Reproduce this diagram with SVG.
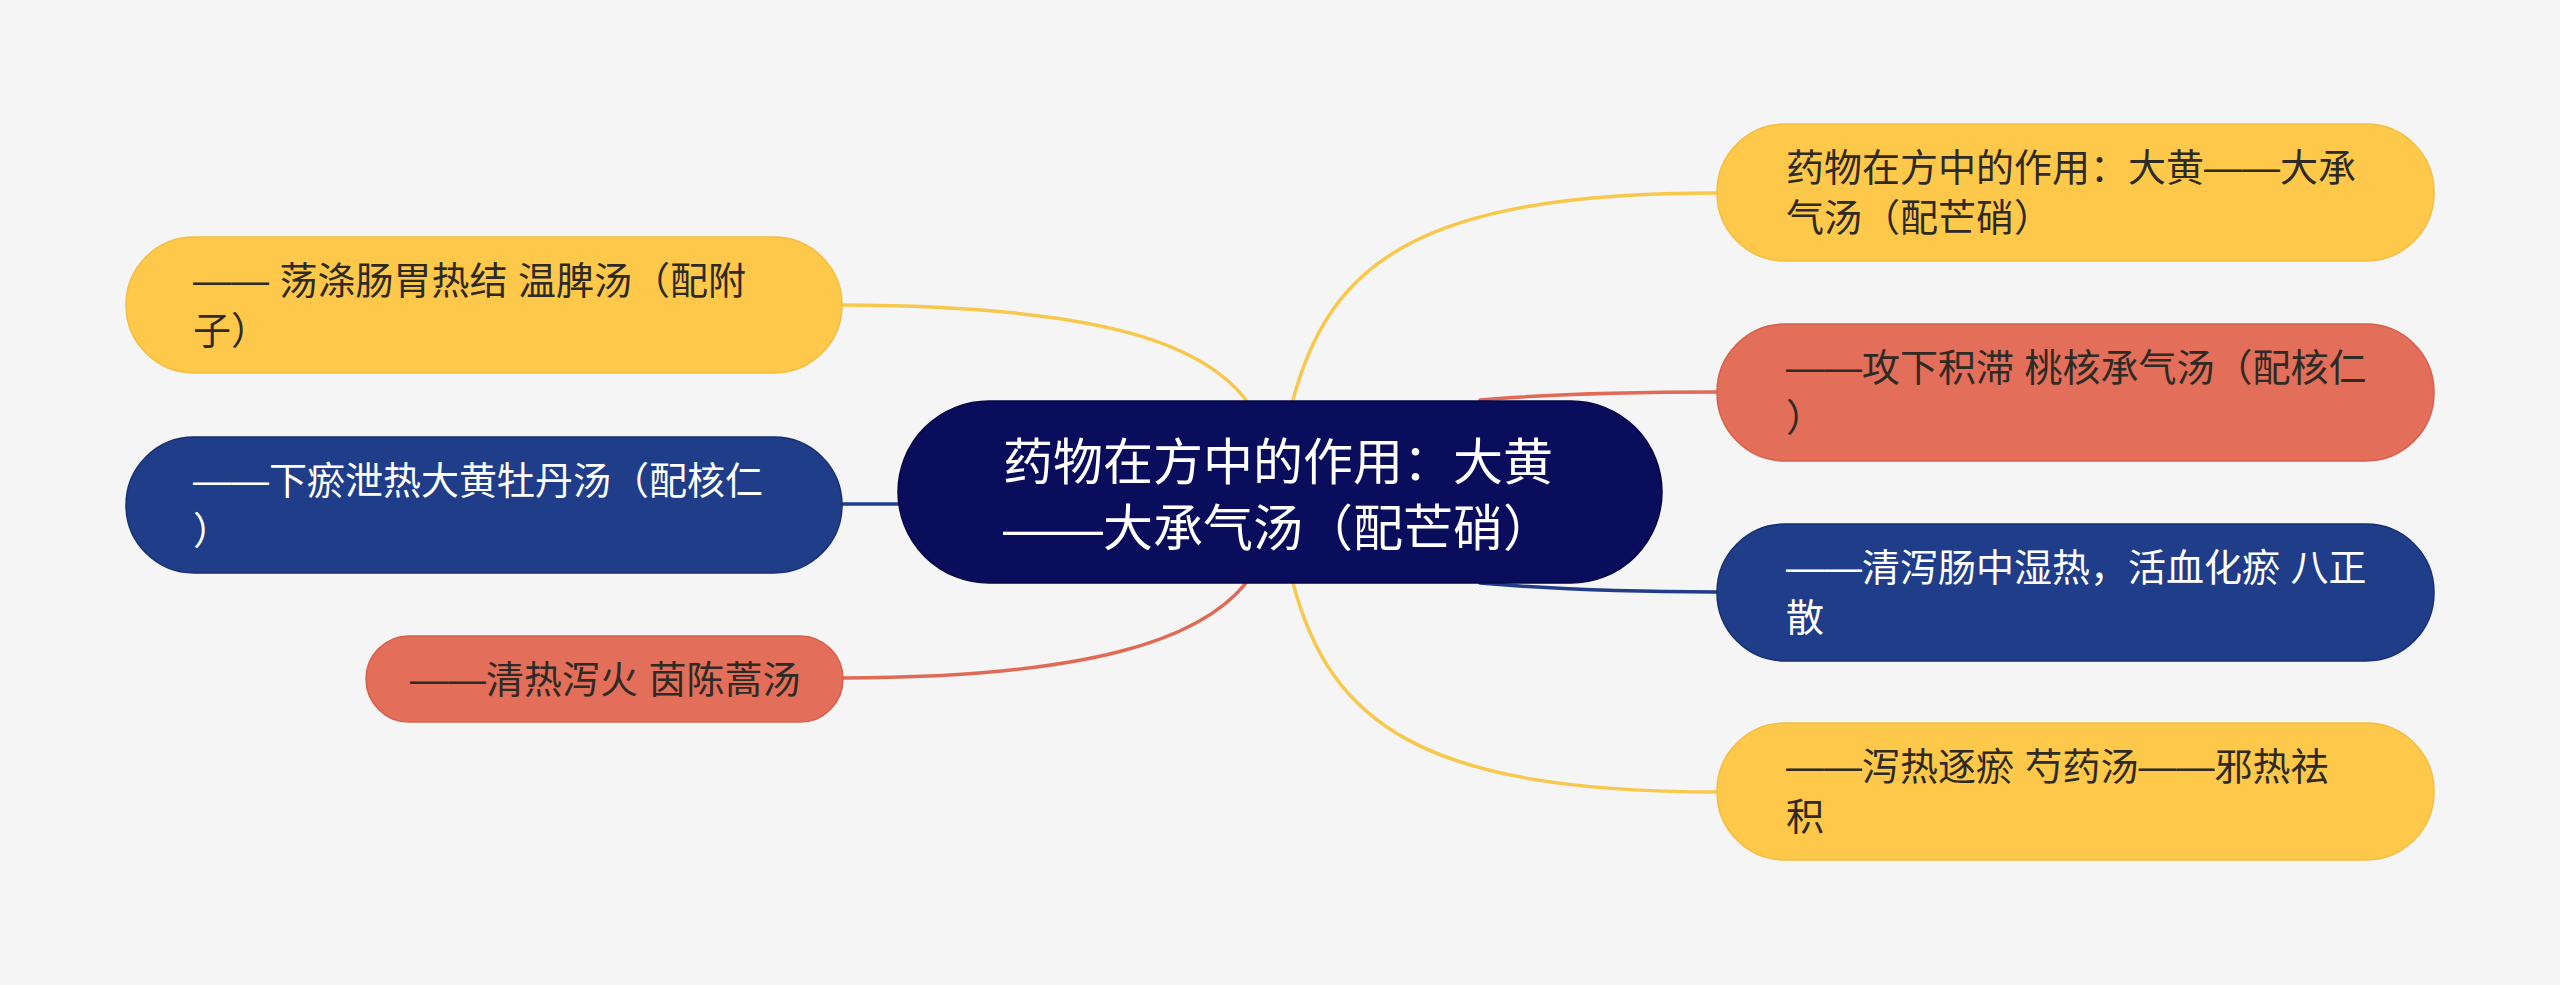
<svg xmlns="http://www.w3.org/2000/svg" width="2560" height="985" viewBox="0 0 2560 985">
<style>
.bg{fill:#f5f5f5}
.yel{fill:#fec84a;stroke:#f4bd3e;stroke-width:1.5}
.red{fill:#e36e59;stroke:#d4604c;stroke-width:1.5}
.blu{fill:#203d89;stroke:#172f72;stroke-width:1.5}
.nav{fill:#090d5b;stroke:#050845;stroke-width:1.5}
.t{font-family:"Liberation Sans","Noto Sans CJK SC",sans-serif;font-size:38px}
.dk{fill:#2e2a25}
.wh{fill:#ffffff}
.ct{font-family:"Liberation Sans","Noto Sans CJK SC",sans-serif;font-size:50px;fill:#ffffff}
.c{fill:none;stroke-width:3.5;stroke-linecap:round}
.cy{stroke:#f8c84c}
.cr{stroke:#e06a55}
.cb{stroke:#203d89}
</style>
<rect class="bg" x="0" y="0" width="2560" height="985"/>
<g id="connectors">
<path class="c cy" d="M842,305 C1090,306 1200,340 1246,400"/>
<path class="c cb" d="M842,504 L898,504"/>
<path class="c cr" d="M843,678 C1090,677 1200,640 1246,583"/>
<path class="c cy" d="M1293,400 C1330,262 1420,193 1717,193"/>
<path class="c cr" d="M1480,400 C1560,393 1650,392 1717,392"/>
<path class="c cb" d="M1480,583 C1560,590 1650,592 1717,592"/>
<path class="c cy" d="M1293,583 C1330,722 1420,792 1717,792"/>
</g>
<g id="center">
<rect class="nav" x="898" y="401" width="764" height="182" rx="91"/>
<text class="ct" x="1003" y="480">药物在方中的作用：大黄</text>
<text class="ct" x="1003" y="546">——大承气汤（配芒硝）</text>
</g>
<g id="left1">
<rect class="yel" x="126" y="237" width="716" height="136" rx="68"/>
<text class="t dk" x="193" y="294">—— 荡涤肠胃热结 温脾汤（配附</text>
<text class="t dk" x="193" y="344">子）</text>
</g>
<g id="left2">
<rect class="blu" x="126" y="437" width="716" height="136" rx="68"/>
<text class="t wh" x="193" y="494">——下瘀泄热大黄牡丹汤（配核仁</text>
<text class="t wh" x="193" y="544">）</text>
</g>
<g id="left3">
<rect class="red" x="366" y="636" width="477" height="86" rx="43"/>
<text class="t dk" x="410" y="693">——清热泻火 茵陈蒿汤</text>
</g>
<g id="right1">
<rect class="yel" x="1717" y="124" width="717" height="137" rx="68"/>
<text class="t dk" x="1786" y="181">药物在方中的作用：大黄——大承</text>
<text class="t dk" x="1786" y="231">气汤（配芒硝）</text>
</g>
<g id="right2">
<rect class="red" x="1717" y="324" width="717" height="137" rx="68"/>
<text class="t dk" x="1786" y="381">——攻下积滞 桃核承气汤（配核仁</text>
<text class="t dk" x="1786" y="431">）</text>
</g>
<g id="right3">
<rect class="blu" x="1717" y="524" width="717" height="137" rx="68"/>
<text class="t wh" x="1786" y="581">——清泻肠中湿热，活血化瘀 八正</text>
<text class="t wh" x="1786" y="631">散</text>
</g>
<g id="right4">
<rect class="yel" x="1717" y="723" width="717" height="137" rx="68"/>
<text class="t dk" x="1786" y="780">——泻热逐瘀 芍药汤——邪热祛</text>
<text class="t dk" x="1786" y="830">积</text>
</g>
</svg>
